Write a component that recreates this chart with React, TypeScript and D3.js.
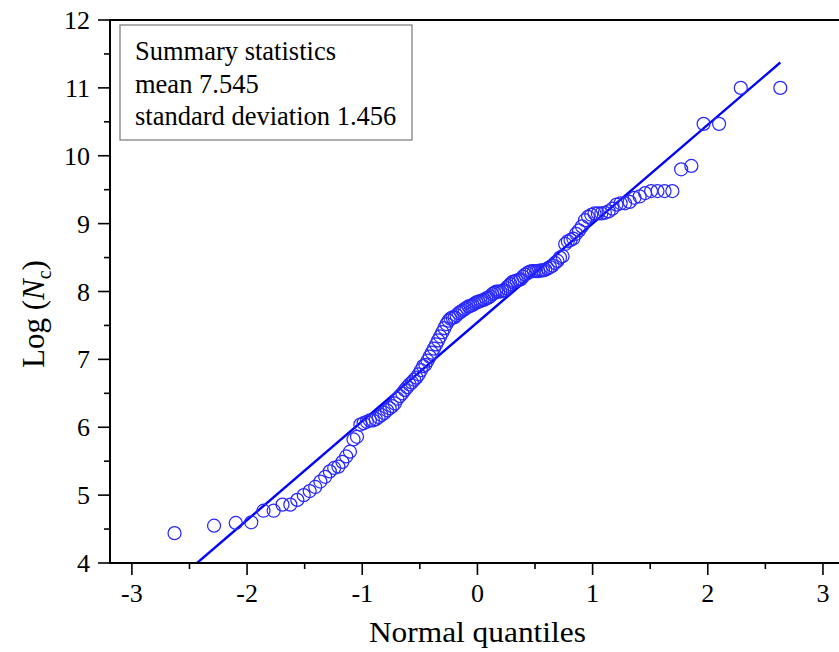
import React from 'react';
import * as d3 from 'd3';

const logNc: number[] = [
  4.44, 4.55, 4.59, 4.60, 4.77, 4.77, 4.86, 4.86, 4.93, 5.00,
  5.06, 5.12, 5.20, 5.27, 5.35, 5.40, 5.42, 5.49, 5.57, 5.64,
  5.82, 5.86, 6.04, 6.06, 6.08, 6.10, 6.10, 6.12, 6.15, 6.18,
  6.21, 6.25, 6.28, 6.31, 6.35, 6.42, 6.46, 6.50, 6.55, 6.59,
  6.63, 6.66, 6.70, 6.73, 6.78, 6.84, 6.90, 6.92, 6.98, 7.04,
  7.10, 7.16, 7.22, 7.28, 7.34, 7.40, 7.46, 7.52, 7.57, 7.60,
  7.62, 7.62, 7.65, 7.68, 7.70, 7.72, 7.74, 7.76, 7.78, 7.79,
  7.80, 7.82, 7.84, 7.85, 7.86, 7.87, 7.88, 7.90, 7.91, 7.93,
  7.96, 7.98, 8.00, 8.00, 8.00, 8.01, 8.02, 8.05, 8.08, 8.11,
  8.14, 8.15, 8.16, 8.17, 8.18, 8.22, 8.25, 8.27, 8.29, 8.30,
  8.30, 8.30, 8.30, 8.31, 8.31, 8.32, 8.34, 8.36, 8.38, 8.42,
  8.45, 8.50, 8.52, 8.70, 8.74, 8.76, 8.78, 8.85, 8.90, 8.96,
  9.05, 9.10, 9.13, 9.15, 9.15, 9.15, 9.16, 9.18, 9.22, 9.28,
  9.30, 9.30, 9.32, 9.38, 9.40, 9.45, 9.48, 9.48, 9.48, 9.48,
  9.80, 9.85, 10.47, 10.47, 11.00, 11.00,
];

const xTicks: number[] = [-3, -2, -1, 0, 1, 2, 3];
const xMinorTicks: number[] = [-2.5, -1.5, -0.5, 0.5, 1.5, 2.5];
const yTicks: number[] = [4, 5, 6, 7, 8, 9, 10, 11, 12];
const yMinorTicks: number[] = [4.5, 5.5, 6.5, 7.5, 8.5, 9.5, 10.5, 11.5];
const summaryLines: string[] = ['Summary statistics', 'mean 7.545', 'standard deviation 1.456'];
const fitMean = 7.545;
const fitSd = 1.456;
const xTitle = 'Normal quantiles';

// Inverse standard normal CDF (Acklam)
function invNorm(p: number): number {
  const a = [-3.969683028665376e1, 2.209460984245205e2, -2.759285104469687e2, 1.38357751867269e2, -3.066479806614716e1, 2.506628277459239];
  const b = [-5.447609879822406e1, 1.615858368580409e2, -1.556989798598866e2, 6.680131188771972e1, -1.328068155288572e1];
  const c = [-7.784894002430293e-3, -3.223964580411365e-1, -2.400758277161838, -2.549732539343734, 4.374664141464968, 2.938163982698783];
  const d = [7.784695709041462e-3, 3.224671290700398e-1, 2.445134137142996, 3.754408661907416];
  const pl = 0.02425;
  if (p < pl) {
    const q = Math.sqrt(-2 * Math.log(p));
    return (((((c[0] * q + c[1]) * q + c[2]) * q + c[3]) * q + c[4]) * q + c[5]) / ((((d[0] * q + d[1]) * q + d[2]) * q + d[3]) * q + 1);
  }
  if (p > 1 - pl) {
    const q = Math.sqrt(-2 * Math.log(1 - p));
    return -(((((c[0] * q + c[1]) * q + c[2]) * q + c[3]) * q + c[4]) * q + c[5]) / ((((d[0] * q + d[1]) * q + d[2]) * q + d[3]) * q + 1);
  }
  const q = p - 0.5;
  const r = q * q;
  return (((((a[0] * r + a[1]) * r + a[2]) * r + a[3]) * r + a[4]) * r + a[5]) * q / (((((b[0] * r + b[1]) * r + b[2]) * r + b[3]) * r + b[4]) * r + 1);
}

const W = 839;
const H = 652;
const L = 110, T = 20, B = 563, R = 846;

export default function App() {
  const n = logNc.length;
  const points = logNc.map((v, i) => ({ q: invNorm((i + 1 - 0.375) / (n + 0.25)), v }));
  const x = d3.scaleLinear().domain([-3.19, 3.2]).range([L, R]);
  const y = d3.scaleLinear().domain([4, 12]).range([B, T]);
  const qMin = d3.min(points, (p) => p.q) as number;
  const qMax = d3.max(points, (p) => p.q) as number;
  const line = d3.line<number>().x((q) => x(q)).y((q) => y(fitMean + fitSd * q));
  const font = '"Liberation Serif", "Times New Roman", serif';

  return (
    <svg width={W} height={H} style={{ position: 'absolute', left: 0, top: 0, background: '#fff' }} fontFamily={font}>
      <defs>
        <clipPath id="plotClip">
          <rect x={L} y={T} width={R - L} height={B - T} />
        </clipPath>
      </defs>
      <rect x={0} y={0} width={W} height={H} fill="#fff" />
      {/* fit line */}
      <path d={line([qMin, qMax]) || ''} stroke="#0000ff" strokeWidth={2.4} fill="none" clipPath="url(#plotClip)" />
      {/* points */}
      <g clipPath="url(#plotClip)">
        {points.map((p, i) => (
          <circle key={i} cx={x(p.q)} cy={y(p.v)} r={6.5} fill="none" stroke="#2828ff" strokeWidth={1.25} />
        ))}
      </g>
      {/* frame */}
      <line x1={L} y1={T} x2={R} y2={T} stroke="#000" strokeWidth={2} />
      <line x1={L} y1={T - 1} x2={L} y2={B + 1} stroke="#000" strokeWidth={2} />
      <line x1={L - 1} y1={B} x2={R} y2={B} stroke="#000" strokeWidth={2} />
      <line x1={R} y1={T} x2={R} y2={B} stroke="#000" strokeWidth={2} />
      {/* y ticks */}
      {yTicks.map((t) => (
        <g key={'y' + t}>
          <line x1={L - 12} x2={L} y1={y(t)} y2={y(t)} stroke="#000" strokeWidth={1.6} />
          <text x={L - 20} y={y(t) + 9} textAnchor="end" fontSize={26} fill="#000">{t}</text>
        </g>
      ))}
      {yMinorTicks.map((t) => (
        <line key={'ym' + t} x1={L - 6} x2={L} y1={y(t)} y2={y(t)} stroke="#000" strokeWidth={1.6} />
      ))}
      {/* x ticks */}
      {xTicks.map((t) => (
        <g key={'x' + t}>
          <line x1={x(t)} x2={x(t)} y1={B} y2={B + 12} stroke="#000" strokeWidth={1.6} />
          <text x={x(t)} y={B + 39} textAnchor="middle" fontSize={26} fill="#000">{t}</text>
        </g>
      ))}
      {xMinorTicks.map((t) => (
        <line key={'xm' + t} x1={x(t)} x2={x(t)} y1={B} y2={B + 6} stroke="#000" strokeWidth={1.6} />
      ))}
      {/* axis titles */}
      <text x={x(0)} y={642} textAnchor="middle" fontSize={30} fill="#000" textLength={217} lengthAdjust="spacingAndGlyphs">{xTitle}</text>
      <text transform={`translate(44, 314) rotate(-90)`} textAnchor="middle" fontSize={31} fill="#000">
        Log (<tspan fontStyle="italic">N</tspan><tspan fontSize={20} dy={7}>c</tspan><tspan dy={-7}>)</tspan>
      </text>
      {/* summary box */}
      <rect x={120} y={25} width={292} height={115} fill="#fff" stroke="#777" strokeWidth={1.2} />
      {summaryLines.map((s, i) => (
        <text key={s} x={135} y={60 + i * 32.5} fontSize={26.5} fill="#000">{s}</text>
      ))}
    </svg>
  );
}
